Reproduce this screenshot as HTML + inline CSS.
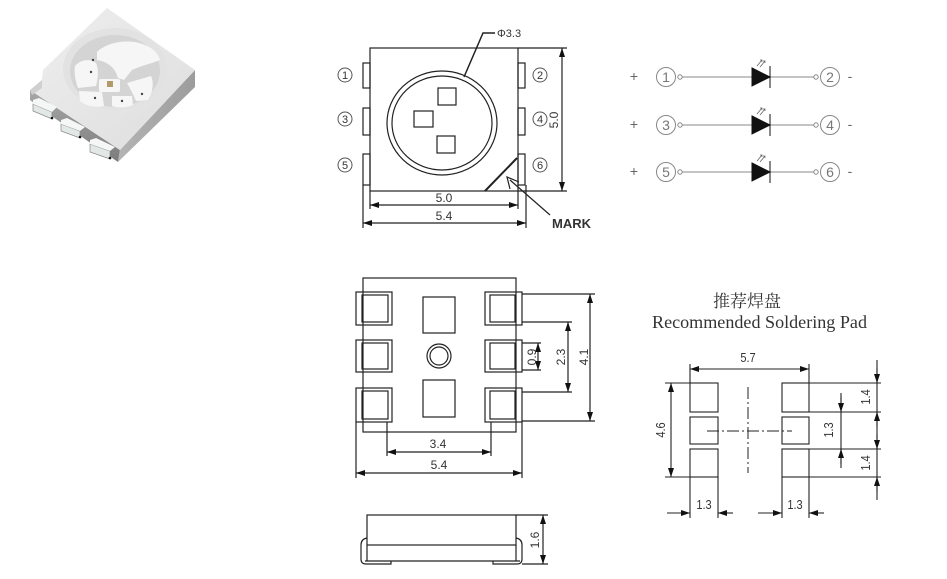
<!DOCTYPE html>
<html><head><meta charset="utf-8"><style>
html,body{margin:0;padding:0;background:#fff;}
svg{display:block;}
.d{font-family:"Liberation Sans",sans-serif;font-size:12px;fill:#333;}
</style></head><body>
<svg width="947" height="579" viewBox="0 0 947 579" xmlns="http://www.w3.org/2000/svg">
<defs>
<marker id="a" viewBox="0 0 9 6" refX="9" refY="3" markerWidth="9" markerHeight="6" markerUnits="userSpaceOnUse" orient="auto-start-reverse"><path d="M0,0 L9,3 L0,6 z" fill="#111"/></marker>
<linearGradient id="gt" x1="0" y1="0" x2="1" y2="1"><stop offset="0" stop-color="#eeeeee"/><stop offset="1" stop-color="#dedede"/></linearGradient>
<linearGradient id="gr" x1="0" y1="0" x2="1" y2="0"><stop offset="0" stop-color="#b4b4b4"/><stop offset="1" stop-color="#9c9c9c"/></linearGradient>
<linearGradient id="gl" x1="0" y1="0" x2="0" y2="1"><stop offset="0" stop-color="#a8a8a8"/><stop offset="1" stop-color="#7c7c7c"/></linearGradient>
</defs>

<!-- 3D LED -->
<g>
<polygon points="30,90 120,150 118,162 40,108 30,100" fill="url(#gl)"/>
<polygon points="120,150 195,70 195,87 118,162" fill="url(#gr)"/>
<polygon points="107,8 195,70 120,150 30,90 42,80 43,70" fill="url(#gt)"/>
<polygon points="30,90 42,80 42,88 32,95" fill="#d0d0d0"/>
<ellipse cx="115" cy="69" rx="52" ry="41" fill="#e2e2e2"/>
<ellipse cx="115" cy="71" rx="45" ry="36" fill="#d4d4d4"/>
<g fill="#f6f6f6">
<path d="M97,52 C105,44 120,40 135,42 C150,45 158,52 160,60 C150,64 140,66 132,70 L124,80 L118,78 C116,70 110,62 97,60 Z"/>
<path d="M75,66 C80,60 90,58 96,63 C99,70 98,78 96,86 L78,88 C75,80 74,72 75,66 Z"/>
<rect x="99" y="79" width="21" height="13" rx="2"/>
<path d="M79,91 L102,92 L104,106 C95,108 86,106 80,101 Z"/>
<path d="M112,96 L132,96 L133,105 C126,108 118,108 112,106 Z"/>
<path d="M127,83 L151,76 C154,82 153,92 148,100 L136,101 C133,94 130,88 127,83 Z"/>
</g>
<rect x="107" y="81" width="6" height="6" fill="#b29a6a"/>
<circle cx="91" cy="72" r="1.2" fill="#444"/><circle cx="95" cy="98" r="1.2" fill="#444"/><circle cx="122" cy="101" r="1.2" fill="#444"/><circle cx="142" cy="94" r="1.2" fill="#444"/><circle cx="93" cy="60" r="1.2" fill="#444"/>
<g>
<polygon points="33,104 52,112 52,119 33,111" fill="#e2e8e6" stroke="#888" stroke-width="0.7"/>
<polygon points="33,100 39,98 57,107 52,112 33,104" fill="#f4f7f6"/>
<polygon points="61,124 80,131 80,138 61,131" fill="#e2e8e6" stroke="#888" stroke-width="0.7"/>
<polygon points="61,120 67,118 85,127 80,131 61,124" fill="#f4f7f6"/>
<polygon points="90,144 110,151 110,159 90,152" fill="#e2e8e6" stroke="#888" stroke-width="0.7"/>
<polygon points="90,140 96,138 115,147 110,151 90,144" fill="#f4f7f6"/>
<circle cx="52" cy="118" r="1.3" fill="#111"/><circle cx="80" cy="137" r="1.3" fill="#111"/><circle cx="110" cy="158" r="1.3" fill="#111"/>
</g>
</g>

<!-- TOP VIEW -->
<g fill="none" stroke="#222" stroke-width="1.2">
<rect x="370" y="48" width="148" height="143"/>
<rect x="363" y="63" width="7" height="25"/>
<rect x="363" y="108" width="7" height="27"/>
<rect x="363" y="154" width="7" height="31"/>
<rect x="518" y="63" width="7" height="25"/>
<rect x="518" y="108" width="7" height="27"/>
<rect x="518" y="154" width="7" height="31"/>
<ellipse cx="442" cy="123" rx="55" ry="52"/>
<ellipse cx="442" cy="123" rx="50" ry="47"/>
<rect x="438" y="88" width="18" height="17"/>
<rect x="414" y="111" width="19" height="16"/>
<rect x="437" y="136" width="18" height="17"/>
<polyline points="464,77 483,33 495,33" stroke-width="1.5"/>
<line x1="485" y1="191" x2="517" y2="158" stroke-width="2"/>
<line x1="550" y1="215" x2="510" y2="180"/>
<polyline points="510,189 507,177 519,182"/>
<line x1="370" y1="191" x2="370" y2="209"/>
<line x1="518" y1="191" x2="518" y2="209"/>
<line x1="363" y1="185" x2="363" y2="228"/>
<line x1="526" y1="185" x2="526" y2="228"/>
<line x1="518" y1="48" x2="567" y2="48"/>
<line x1="518" y1="191" x2="567" y2="191"/>
<line x1="370" y1="205" x2="518" y2="205" marker-start="url(#a)" marker-end="url(#a)"/>
<line x1="363" y1="223" x2="526" y2="223" marker-start="url(#a)" marker-end="url(#a)"/>
<line x1="562" y1="48" x2="562" y2="191" marker-start="url(#a)" marker-end="url(#a)"/>
</g>
<text x="497" y="37" class="d" style="font-size:11px">Φ3.3</text>
<text x="444" y="202" class="d" text-anchor="middle">5.0</text>
<text x="444" y="220" class="d" text-anchor="middle">5.4</text>
<text transform="translate(558,120) rotate(-90)" class="d" text-anchor="middle">5.0</text>
<text x="552" y="228" font-family="Liberation Sans,sans-serif" font-weight="bold" font-size="13" fill="#333">MARK</text>
<g fill="none" stroke="#555" stroke-width="1">
<circle cx="345" cy="75" r="7"/><circle cx="345" cy="119" r="7"/><circle cx="345" cy="165" r="7"/>
<circle cx="540" cy="75" r="7"/><circle cx="540" cy="119" r="7"/><circle cx="540" cy="165" r="7"/>
</g>
<g class="d" text-anchor="middle" style="font-size:11px;fill:#333">
<text x="345" y="79">1</text><text x="345" y="123">3</text><text x="345" y="169">5</text>
<text x="540" y="79">2</text><text x="540" y="123">4</text><text x="540" y="169">6</text>
</g>

<!-- SCHEMATIC -->
<g font-family="Liberation Sans,sans-serif" fill="#666" font-size="14" text-anchor="middle">
<text x="634" y="81">+</text><text x="634" y="129">+</text><text x="634" y="176">+</text>
<text x="850" y="81">-</text><text x="850" y="129">-</text><text x="850" y="176">-</text>
</g>
<g font-family="Liberation Sans,sans-serif" fill="#777" font-size="14" text-anchor="middle">
<text x="666" y="82">1</text><text x="666" y="130">3</text><text x="666" y="177">5</text>
<text x="830" y="82">2</text><text x="830" y="130">4</text><text x="830" y="177">6</text>
</g>
<g stroke="#888" stroke-width="1" fill="none">
<circle cx="666" cy="77" r="9.5"/><circle cx="666" cy="125" r="9.5"/><circle cx="666" cy="172" r="9.5"/>
<circle cx="830" cy="77" r="9.5"/><circle cx="830" cy="125" r="9.5"/><circle cx="830" cy="172" r="9.5"/>
<circle cx="680" cy="77" r="2.2"/><circle cx="680" cy="125" r="2.2"/><circle cx="680" cy="172" r="2.2"/>
<circle cx="816" cy="77" r="2.2"/><circle cx="816" cy="125" r="2.2"/><circle cx="816" cy="172" r="2.2"/>
<line x1="682" y1="77" x2="752" y2="77"/><line x1="770" y1="77" x2="814" y2="77"/>
<line x1="682" y1="125" x2="752" y2="125"/><line x1="770" y1="125" x2="814" y2="125"/>
<line x1="682" y1="172" x2="752" y2="172"/><line x1="770" y1="172" x2="814" y2="172"/>
</g>
<g fill="#111" stroke="#111" stroke-width="1">
<polygon points="752,68 770,77 752,86"/><line x1="770" y1="66" x2="770" y2="88"/>
<polygon points="752,116 770,125 752,134"/><line x1="770" y1="114" x2="770" y2="136"/>
<polygon points="752,163 770,172 752,181"/><line x1="770" y1="161" x2="770" y2="183"/>
</g>
<g stroke="#666" stroke-width="0.8" fill="none">
<path d="M757,66 l5,-6 M760,67 l5,-6 M760,60 l2,0 0,2 M763,61 l2,0 0,2"/>
<path d="M757,114 l5,-6 M760,115 l5,-6 M760,108 l2,0 0,2 M763,109 l2,0 0,2"/>
<path d="M757,161 l5,-6 M760,162 l5,-6 M760,155 l2,0 0,2 M763,156 l2,0 0,2"/>
</g>

<!-- BOTTOM VIEW -->
<g fill="none" stroke="#222" stroke-width="1.2">
<rect x="363" y="278" width="153" height="154"/>
<rect x="356" y="292" width="36" height="33"/><rect x="362" y="295" width="26" height="27"/>
<rect x="356" y="340" width="36" height="32"/><rect x="362" y="343" width="26" height="26"/>
<rect x="356" y="388" width="36" height="34"/><rect x="362" y="391" width="26" height="28"/>
<rect x="485" y="292" width="37" height="33"/><rect x="490" y="295" width="25" height="27"/>
<rect x="485" y="340" width="37" height="32"/><rect x="490" y="343" width="25" height="26"/>
<rect x="485" y="388" width="37" height="34"/><rect x="490" y="391" width="25" height="28"/>
<rect x="423" y="297" width="32" height="36"/>
<rect x="423" y="380" width="32" height="37"/>
<circle cx="439" cy="356" r="12"/><circle cx="439" cy="356" r="9"/>
<line x1="522" y1="294" x2="595" y2="294"/>
<line x1="522" y1="421" x2="595" y2="421"/>
<line x1="522" y1="322" x2="572" y2="322"/>
<line x1="522" y1="392" x2="572" y2="392"/>
<line x1="522" y1="343" x2="541" y2="343"/>
<line x1="522" y1="370" x2="541" y2="370"/>
<line x1="590" y1="294" x2="590" y2="421" marker-start="url(#a)" marker-end="url(#a)"/>
<line x1="568" y1="322" x2="568" y2="392" marker-start="url(#a)" marker-end="url(#a)"/>
<line x1="538" y1="343" x2="538" y2="370" marker-start="url(#a)" marker-end="url(#a)"/>
<line x1="387" y1="422" x2="387" y2="456"/>
<line x1="491" y1="422" x2="491" y2="456"/>
<line x1="356" y1="422" x2="356" y2="478"/>
<line x1="522" y1="422" x2="522" y2="478"/>
<line x1="387" y1="452" x2="491" y2="452" marker-start="url(#a)" marker-end="url(#a)"/>
<line x1="356" y1="473" x2="522" y2="473" marker-start="url(#a)" marker-end="url(#a)"/>
</g>
<text x="438" y="448" class="d" text-anchor="middle">3.4</text>
<text x="439" y="469" class="d" text-anchor="middle">5.4</text>
<text transform="translate(536,357) rotate(-90)" class="d" text-anchor="middle">0.9</text>
<text transform="translate(565,357) rotate(-90)" class="d" text-anchor="middle">2.3</text>
<text transform="translate(588,357) rotate(-90)" class="d" text-anchor="middle">4.1</text>

<!-- SIDE VIEW -->
<g fill="none" stroke="#222" stroke-width="1.2">
<rect x="367" y="515" width="149" height="30"/>
<line x1="367" y1="545" x2="367" y2="561"/>
<line x1="516" y1="545" x2="516" y2="561"/>
<line x1="365" y1="561" x2="520" y2="561"/>
<path d="M367,538 Q361,539 361,545 L361,559 Q361,564 366,564 L391,564 L391,561"/>
<path d="M516,538 Q522,539 522,545 L522,559 Q522,564 517,564 L493,564 L493,561"/>
<line x1="516" y1="515" x2="548" y2="515"/>
<line x1="522" y1="564" x2="548" y2="564"/>
<line x1="543" y1="515" x2="543" y2="564" marker-start="url(#a)" marker-end="url(#a)"/>
</g>
<text transform="translate(539,540) rotate(-90)" class="d" text-anchor="middle">1.6</text>

<!-- SOLDERING PAD -->
<text x="747" y="307" text-anchor="middle" font-family="'Liberation Serif','Noto Serif CJK SC',serif" font-size="17" fill="#333">推荐焊盘</text>
<text x="652" y="328" textLength="215" lengthAdjust="spacingAndGlyphs" font-family="'Liberation Serif',serif" font-size="18" fill="#333">Recommended Soldering Pad</text>
<g fill="none" stroke="#222" stroke-width="1.1">
<rect x="690" y="383" width="28" height="29"/>
<rect x="690" y="417" width="28" height="27"/>
<rect x="690" y="449" width="28" height="28"/>
<rect x="782" y="383" width="27" height="29"/>
<rect x="782" y="417" width="27" height="27"/>
<rect x="782" y="449" width="27" height="28"/>
<line x1="690" y1="364" x2="690" y2="383"/>
<line x1="809" y1="364" x2="809" y2="383"/>
<line x1="690" y1="369" x2="809" y2="369" marker-start="url(#a)" marker-end="url(#a)"/>
<line x1="665" y1="383" x2="690" y2="383"/>
<line x1="665" y1="477" x2="690" y2="477"/>
<line x1="671" y1="383" x2="671" y2="477" marker-start="url(#a)" marker-end="url(#a)"/>
<line x1="748" y1="387" x2="748" y2="473" stroke-dasharray="12,3,2,3" stroke-width="1"/>
<line x1="707" y1="431" x2="792" y2="431" stroke-dasharray="12,3,2,3" stroke-width="1"/>
<line x1="809" y1="383" x2="881" y2="383"/>
<line x1="809" y1="412" x2="881" y2="412"/>
<line x1="809" y1="449" x2="881" y2="449"/>
<line x1="809" y1="477" x2="881" y2="477"/>
<line x1="877" y1="360" x2="877" y2="500"/>
<line x1="877" y1="368" x2="877" y2="383" marker-end="url(#a)"/>
<line x1="877" y1="427" x2="877" y2="412" marker-end="url(#a)"/>
<line x1="877" y1="434" x2="877" y2="449" marker-end="url(#a)"/>
<line x1="877" y1="492" x2="877" y2="477" marker-end="url(#a)"/>
<line x1="841" y1="393" x2="841" y2="468"/>
<line x1="841" y1="397" x2="841" y2="412" marker-end="url(#a)"/>
<line x1="841" y1="464" x2="841" y2="449" marker-end="url(#a)"/>
<line x1="690" y1="477" x2="690" y2="518"/>
<line x1="718" y1="477" x2="718" y2="518"/>
<line x1="782" y1="477" x2="782" y2="518"/>
<line x1="809" y1="477" x2="809" y2="518"/>
<line x1="667" y1="513" x2="690" y2="513" marker-end="url(#a)"/>
<line x1="733" y1="513" x2="718" y2="513" marker-end="url(#a)"/>
<line x1="758" y1="513" x2="782" y2="513" marker-end="url(#a)"/>
<line x1="824" y1="513" x2="809" y2="513" marker-end="url(#a)"/>
</g>
<g font-family="Liberation Sans,sans-serif" font-size="13" fill="#333" text-anchor="middle">
<text x="748" y="362" transform="translate(748,0) scale(0.85,1) translate(-748,0)">5.7</text>
<text x="704" y="509" transform="translate(704,0) scale(0.85,1) translate(-704,0)">1.3</text>
<text x="795" y="509" transform="translate(795,0) scale(0.85,1) translate(-795,0)">1.3</text>
<text transform="translate(665,430) rotate(-90) scale(0.85,1)">4.6</text>
<text transform="translate(870,397) rotate(-90) scale(0.85,1)">1.4</text>
<text transform="translate(870,463) rotate(-90) scale(0.85,1)">1.4</text>
<text transform="translate(833,430) rotate(-90) scale(0.85,1)">1.3</text>
</g>
</svg>
</body></html>
